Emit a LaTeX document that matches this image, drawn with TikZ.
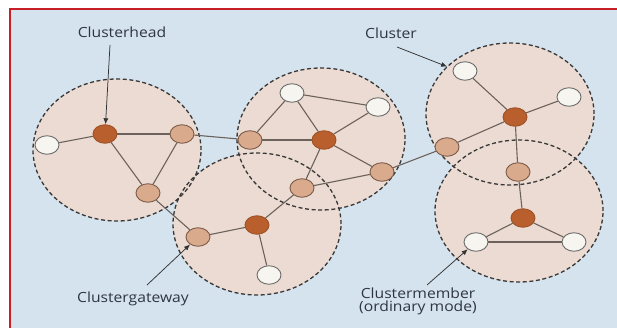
\documentclass[tikz,border=0pt]{standalone}
\usepackage{fontspec}
\setmainfont{Open Sans}[FakeStretch=1.12]
\usetikzlibrary{shapes.geometric,arrows.meta}
\definecolor{bgblue}{HTML}{D5E3EE}
\definecolor{framered}{HTML}{C81E28}
\definecolor{clfill}{HTML}{ECDBD2}
\definecolor{cldash}{HTML}{383838}
\definecolor{darknode}{HTML}{B95F2D}
\definecolor{tannode}{HTML}{DAAA8C}
\definecolor{tanline}{HTML}{7A5A48}
\definecolor{whitenode}{HTML}{F6F5F0}
\definecolor{whiteline}{HTML}{6A6A6A}
\definecolor{edgecol}{HTML}{6B625C}
\definecolor{txtcol}{HTML}{2F3640}
\begin{document}
\begin{tikzpicture}[x=1pt,y=-1pt,
  clusterfill/.style={ellipse,fill=clfill,minimum width=168pt,minimum height=142pt,inner sep=0pt},
  clusterline/.style={draw=cldash,line width=1.3pt,dash pattern=on 4pt off 2.6pt},
  nd/.style={ellipse,minimum width=24pt,minimum height=18.5pt,inner sep=0pt,line width=0.9pt},
  chnode/.style={nd,fill=darknode,draw=darknode!85!black},
  tnode/.style={nd,fill=tannode,draw=tanline},
  wnode/.style={nd,fill=whitenode,draw=whiteline},
  link/.style={draw=edgecol,line width=1.1pt},
  lbl/.style={font=\fontsize{14}{13.5}\selectfont,text=txtcol,inner sep=0pt},
  arr/.style={draw=black!80,line width=0.75pt,-{Latex[length=6pt,width=5pt]}}
]
\useasboundingbox (0,0) rectangle (617,328);
\fill[white] (0,0) rectangle (617,328);
\fill[bgblue] (10,9) rectangle (617,328);
\draw[framered,line width=1.6pt] (10,328) -- (10,9) -- (617,9);

% cluster areas
\node[clusterfill] (c1) at (117,150) {};
\node[clusterfill] (c2) at (321,139) {};
\node[clusterfill] (c3) at (257,224) {};
\node[clusterfill] (c4) at (510,114) {};
\node[clusterfill] (c5) at (519,211) {};
\foreach \c in {c1,c2,c3,c4,c5}
  \draw[clusterline] (\c.center) ellipse [x radius=84pt, y radius=71pt];

% nodes
\node[chnode] (ch1) at (105,134) {};
\node[wnode] (w1) at (47,145) {};
\node[tnode] (g1a) at (182,134) {};
\node[tnode] (g1b) at (148,193) {};
\node[wnode] (w2a) at (292,93) {};
\node[wnode] (w2b) at (378,107) {};
\node[tnode] (t2l) at (250,140) {};
\node[chnode] (ch2) at (324,140) {};
\node[tnode] (t2r) at (382,172) {};
\node[tnode] (t2b) at (302,188) {};
\node[tnode] (g3a) at (198,237) {};
\node[chnode] (ch3) at (257,225) {};
\node[wnode] (w3) at (269,275) {};
\node[wnode] (w4a) at (465,71) {};
\node[wnode] (w4b) at (569,97) {};
\node[chnode] (ch4) at (515,117) {};
\node[tnode] (t4) at (447,147) {};
\node[tnode] (t5) at (518,172) {};
\node[chnode] (ch5) at (523,218) {};
\node[wnode] (w5a) at (476,242) {};
\node[wnode] (w5b) at (574,242) {};

% links
\foreach \a/\b in {w1/ch1,ch1/g1a,ch1/g1b,g1a/g1b,g1a/t2l,g1b/g3a,
  w2a/w2b,w2a/t2l,w2a/ch2,w2b/ch2,t2l/ch2,ch2/t2r,ch2/t2b,t2b/t2r,t2r/t4,
  g3a/ch3,ch3/w3,ch3/t2b,
  w4a/ch4,w4b/ch4,ch4/t4,ch4/t5,t5/ch5,ch5/w5a,ch5/w5b,w5a/w5b}
  \draw[link] (\a) -- (\b);

% labels
\node[lbl,anchor=base] (lh) at (122,38) {Clusterhead};
\coordinate (lha) at (110,45);
\draw[arr] (lha) -- (ch1);

\node[lbl,anchor=base] (lc) at (391,39) {Cluster};
\coordinate (lca) at (397,47);
\draw[arr] (lca) -- (c4.143);

\node[lbl,anchor=base] (lg) at (133,302) {Clustergateway};
\coordinate (lga) at (147,285);
\draw[arr] (lga) -- (g3a);

\node[lbl,align=center,anchor=north] (lm) at (418,287.5) {Clustermember\\(ordinary mode)};
\coordinate (lma) at (427,285);
\draw[arr] (lma) -- (w5a);
\end{tikzpicture}
\end{document}
